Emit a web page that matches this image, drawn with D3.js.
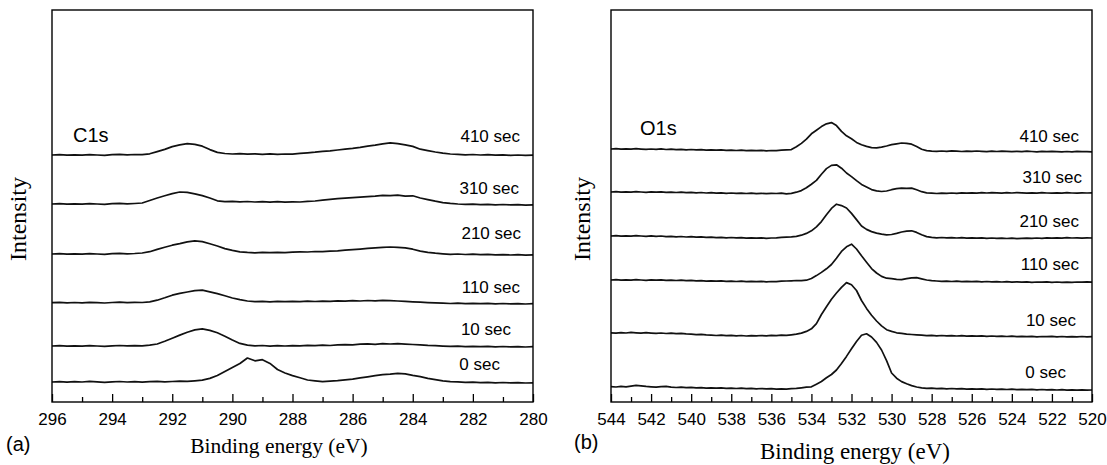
<!DOCTYPE html>
<head>
<meta charset="utf-8">
<script src="https://d3js.org/d3.v7.min.js"></script>
</head>
<style>
body { margin: 0; background: #fff; }
.frame { fill: none; stroke: #000; stroke-width: 1.4px; }
.line { fill: none; stroke: #111; stroke-width: 1.7px; stroke-linejoin: round; }
.tick line { stroke: #000; stroke-width: 1.3px; }
.tick text { font-family: "Liberation Sans", Arial, sans-serif; font-size: 17px; fill: #000; }
.sans { font-family: "Liberation Sans", Arial, sans-serif; fill: #000; }
.serif { font-family: "Liberation Serif", "Times New Roman", serif; fill: #000; }
</style>
<body>
<script>
// spectra, intensity in arbitrary units (stacked), sampled every 0.25 eV
var seriesNames = ["0 sec", "10 sec", "110 sec", "210 sec", "310 sec", "410 sec"];

// C1s : 296 -> 280 eV
var c1sEnergy = d3.range(0, 65).map(function(i) { return 296 - 0.25 * i; });
var c1s0 = [20,20.4,19.8,20.3,20,20.6,20.1,19.7,20.2,20.5,20,20.4,19.9,20.3,20.6,20.2,20.5,
  20.8,20.6,21.2,21.8,23.6,26.5,30.5,34.5,38.5,44,41.2,42.3,38.6,32.5,29,26.4,24.2,22,21.2,20.4,
  20.8,21.3,22.2,22.8,24.1,25.2,26.3,27.4,27.9,28.6,28.1,26.6,25.3,23.6,22.4,21.2,20.4,20.1,19.6,
  19.8,19.4,19.7,19.2,19.5,19.1,19.4,19,19.2];
var c1s10 = [56,56.3,55.8,56.2,55.9,56.4,56,55.7,56.2,56.5,56.1,56.4,
  56.2,56.8,58,60.8,63.8,66.9,69.8,72.1,73.2,71.6,69.2,65.8,62,58.6,56.8,56.2,56.5,55.9,56.3,56,
  56.4,56.1,56.6,56.3,56.8,56.5,57.1,57.4,57.2,57.8,58.1,57.7,58.3,58,58.4,57.9,57.5,57.2,56.6,
  56.3,55.9,55.6,55.9,55.4,55.7,55.3,55.6,55.2,55.5,55.1,55.4,55,55.3];
var c1s110 = [99.3,99.6,99.1,99.5,99.2,99.7,99.3,99,99.5,99.8,99.4,99.6,
  99.5,100.2,101.8,104.2,106.8,108.6,110,111.4,111.8,110.2,108.4,106.2,104,102.4,101,100.4,100.7,
  100.2,100.6,100.3,100.7,100.4,100.8,100.5,100.9,100.6,101.1,100.8,101.3,101,101.5,101.2,101.6,
  101.3,101,100.6,100.2,99.8,99.4,99.1,98.8,98.5,98.8,98.4,98.7,98.3,98.6,98.2,98.5,98.1,98.4,98,98.3];
var c1s210 = [148,148.3,147.8,148.2,147.9,148.4,148,147.7,148.3,148.6,148.2,148.5,
  149,150.3,152.6,154.8,156.8,158.4,160.2,161.2,160.4,158.2,156,153.4,151.6,150.2,149.6,149.2,
  149.6,149.3,149.7,149.4,149.9,150.2,150,150.5,150.3,150.8,151.2,151.8,152.3,152.9,153.6,154.2,
  154.6,155,154.7,154.2,152.8,150.9,149.6,148.8,148.2,147.7,148,147.5,147.8,147.3,147.6,147.1,
  147.4,147,147.3,146.9,147.1];
var c1s310 = [198,198.3,197.8,198.2,197.9,198.4,198,197.7,198.3,198.6,198.1,198.5,
  199,201.5,204,206.2,208.4,210,209.6,208.2,206.4,204,201.2,200.3,200.6,200.1,200.5,200,200.4,
  199.9,200.3,199.8,200.2,200,200.6,201,201.8,202.6,203.3,203.8,204.4,204.9,205.4,205.8,206.6,
  206.3,206.9,205.8,206.2,204,202.4,200.8,199.4,198.6,198,197.6,197.9,197.4,197.7,197.2,197.5,
  197.1,197.4,196.9,197.2];
var c1s410 = [247,247.3,246.8,247.2,246.9,247.4,247,246.7,247.3,247.6,247.2,247.5,
  247.3,248.2,250.4,252.6,255.4,257.2,258.3,257.6,255.8,252.4,249.6,248.5,248,248.4,247.9,248.2,
  247.7,248.1,247.6,248,247.9,248.6,249.2,249.8,250.6,251.2,252,252.8,253.6,254.6,255.8,256.8,
  258.2,259.2,258.4,257.2,255.6,252.8,251.4,250,248.9,248,247.6,247.2,247.5,247,247.3,246.8,
  247.1,246.7,247,246.6,246.9];

// O1s : 544 -> 520 eV
var o1sEnergy = d3.range(0, 97).map(function(i) { return 544 - 0.25 * i; });
var o1s0 = [15.3,15,15.6,15.2,15.9,16.6,16.2,15.6,
  15.2,14.9,15.4,15.6,14.8,14.5,14.9,14.3,14.6,14.1,14.4,13.9,14.2,13.8,14.1,13.6,13.9,13.5,13.8,
  13.3,13.7,13.2,13.5,13.1,13.4,12.9,13.2,12.8,
  13.3,13.6,14.2,14.8,15.2,17.8,20.5,24.2,27.5,32,38.5,45.6,53.2,60.5,66.8,68.2,65,59.6,52,41.4,
  29,23.8,20.4,18.2,16.4,15,14.2,13.6,13.8,
  13.4,13.7,13.2,13.5,13.1,13.4,12.9,13.2,12.8,13.1,12.7,13,12.6,12.9,12.5,12.8,12.4,12.7,12.3,
  12.6,12.2,12.5,12.1,12.4,12,12.3,11.9,12.2,11.8,12.1,11.9,12];
var o1s10 = [69.2,68.9,69.4,69,69.6,69.2,68.8,69.3,68.9,68.6,69,68.5,68.8,68.3,68.6,68.1,67.8,
  67.4,67.7,67.1,66.8,66.5,66.9,66.3,66.6,66.2,66.5,66,66.4,66.1,66.5,66.2,66.6,66.3,66.8,66.6,
  67.2,67.8,68.9,70.6,73.2,78.4,87.5,95.2,102.8,109,114.6,119.4,117.2,111.5,101.5,93.6,86.8,81,
  76.2,72.3,70.6,69.2,68.6,67.9,67.5,
  67.1,66.8,66.4,66.6,66.2,66.5,66.1,66.4,66,66.3,65.9,66.2,65.8,66.1,65.7,66,65.6,65.9,65.5,
  65.8,65.4,65.7,65.3,65.6,65.2,65.5,65.3,65.6,65.2,65.5,65.1,65.4,65.2,65.5,65.1,65.3];
var o1s110 = [122,122.3,121.8,122.2,121.9,122.4,122,121.7,122.1,121.8,122.2,121.6,121.9,121.5,
  121.8,121.3,121.6,121.1,121.4,120.9,121.2,120.8,121.1,120.6,120.9,120.5,120.8,120.4,120.7,120.3,
  120.6,120.2,120.5,120.4,120.8,121,
  121.2,121.5,121.4,121.8,123.5,126.4,129.6,133.2,137.5,143.8,150.6,155.2,157.8,153,146.2,139.8,
  133.4,129,125.6,123.8,123.3,122.6,122.3,123.4,124.2,124.4,123.2,122,121.4,
  121,120.6,120.9,120.5,120.8,120.4,120.7,120.3,120.6,120.2,120.5,120.1,120.4,120,120.3,119.9,
  120.2,119.8,120.1,119.7,120,119.8,120.1,119.7,120,119.6,119.9,119.7,120,119.8,120.1,119.9];
var o1s210 = [166,166.3,165.8,166.2,165.9,166.4,166,165.7,166.1,165.6,166,165.4,165.7,165.2,165.5,
  165,165.3,164.8,165.1,164.6,164.9,164.4,164.7,164.2,164.5,164.1,164.4,163.9,164.2,163.8,164.1,
  163.7,164,164.2,164.6,164.9,
  165.1,165.6,166.8,168.6,171.2,175.2,180.4,187.2,193.6,197.8,196.4,194,188.6,182.4,176,172.6,
  170.4,168.9,167.8,167.2,167.5,168.6,170,170.8,171.2,169.6,167.2,165.4,164.6,
  164.2,164.5,164.1,164.4,164,164.3,163.9,164.2,163.8,164.1,163.7,164,163.6,163.9,163.5,163.8,
  163.4,163.7,163.9,163.6,164,163.7,164.1,163.8,164.2,163.9,164.3,164,164.2,163.9,164.1,164];
var o1s310 = [210,210.3,209.8,210.2,209.9,210.4,210,209.7,210.1,209.8,210.2,209.6,209.9,209.5,
  209.8,209.3,209.6,209.2,209.5,209,209.3,208.9,209.2,208.7,209,208.6,208.9,208.5,208.8,208.4,
  208.7,208.3,208.6,208.5,208.9,208.2,
  208.6,209.8,211.4,214.2,217.8,221.6,227.8,233.4,236.6,237.2,233.8,229,225.4,221.4,217.6,215,
  212.4,211.1,210.5,211,212.3,213.4,213.8,213.6,213.9,212.2,210.3,209.2,208.8,
  208.5,208.9,208.6,209,208.7,209.1,208.8,209.2,208.9,209.3,209,209.4,209.1,208.9,209.3,209,209.4,
  209.1,208.8,209.2,208.9,209.3,209,208.8,209.2,208.9,209.3,209,208.8,209.2,209,209.1];
var o1s410 = [253,253.3,252.8,253.2,252.9,253.3,252.9,252.6,253,252.7,253.1,252.5,252.8,252.4,
  252.7,252.2,252.5,252.1,252.4,251.9,252.2,251.8,252.1,251.6,251.9,251.5,251.8,251.4,251.7,251.3,
  251.6,251.2,251.5,251.4,251.8,252.2,
  252.4,255.2,258.6,262.8,268.2,271.8,275.4,278.2,279.4,276.4,270.6,266.2,263.2,259.6,257.2,255.6,
  254.4,254.2,254.8,256,257.4,258.2,259,258.6,257.8,255.4,252.8,251.4,250.9,
  250.6,251,250.7,251.1,250.8,250.5,250.9,250.6,251,250.7,250.4,250.8,250.5,250.9,250.6,250.3,
  250.7,250.4,250.8,250.5,250.2,250.6,250.3,250.7,250.4,250.1,250.5,250.2,250.6,250.3,250.4,250.2];

var c1sTicks = [296, 294, 292, 290, 288, 286, 284, 282, 280];
var o1sTicks = [544, 542, 540, 538, 536, 534, 532, 530, 528, 526, 524, 522, 520];

// layout
var W = 1107, H = 465;
var plotW = 481, plotH = 392, plotTop = 10;

var svg = d3.select("body").append("svg")
    .attr("width", W)
    .attr("height", H);

function drawPanel(opt) {
  var g = svg.append("g")
      .attr("transform", "translate(" + opt.left + "," + plotTop + ")");

  var x = d3.scaleLinear().domain(opt.domain).range([0, plotW]);
  var y = d3.scaleLinear().domain([0, plotH]).range([plotH, 0]);

  var line = d3.line()
      .x(function(d) { return x(d[0]); })
      .y(function(d) { return y(d[1]); });

  opt.curves.forEach(function(vals) {
    var pts = opt.energy.map(function(e, i) { return [e, vals[i]]; });
    g.append("path")
        .datum(pts)
        .attr("class", "line")
        .attr("d", line);
  });

  // minor ticks
  var minor = d3.range(opt.domain[0], opt.domain[1] - 0.5, -1)
      .filter(function(v) { return opt.ticks.indexOf(v) < 0; });
  g.append("g")
      .attr("transform", "translate(0," + plotH + ")")
      .call(d3.axisBottom(x).tickValues(minor).tickSize(-5).tickFormat(""))
      .call(function(a) { a.select(".domain").remove(); });

  g.append("g")
      .attr("transform", "translate(0," + plotH + ")")
      .call(d3.axisBottom(x).tickValues(opt.ticks).tickSize(-8).tickPadding(11)
            .tickFormat(d3.format("d")))
      .call(function(a) { a.select(".domain").remove(); });

  g.append("rect")
      .attr("class", "frame")
      .attr("width", plotW)
      .attr("height", plotH);

  // series labels
  seriesNames.forEach(function(name, i) {
    svg.append("text")
        .attr("class", "sans")
        .attr("x", opt.labelX[i])
        .attr("y", opt.labelY[i])
        .attr("text-anchor", "end")
        .style("font-size", "17px")
        .text(name);
  });

  svg.append("text")
      .attr("class", "sans")
      .attr("x", opt.titleX)
      .attr("y", opt.titleY)
      .style("font-size", "20px")
      .text(opt.title);

  svg.append("text")
      .attr("class", "sans")
      .attr("x", opt.tagX)
      .attr("y", opt.tagY)
      .style("font-size", "20px")
      .text(opt.tag);

  svg.append("text")
      .attr("class", "serif")
      .attr("x", opt.xlabX)
      .attr("y", opt.xlabY)
      .attr("text-anchor", "middle")
      .style("font-size", opt.xlabSize)
      .text("Binding energy (eV)");

  svg.append("text")
      .attr("class", "serif")
      .attr("transform", "translate(" + opt.ylabX + ",219) rotate(-90)")
      .attr("text-anchor", "middle")
      .style("font-size", "24px")
      .text("Intensity");
}

drawPanel({
  left: 52, domain: [296, 280], energy: c1sEnergy, ticks: c1sTicks,
  curves: [c1s0, c1s10, c1s110, c1s210, c1s310, c1s410],
  labelX: [500, 511, 520, 521, 519, 520],
  labelY: [370, 335, 293, 239, 194, 142],
  title: "C1s", titleX: 73, titleY: 142,
  tag: "(a)", tagX: 6, tagY: 451,
  xlabX: 279, xlabY: 453, xlabSize: "21.5px",
  ylabX: 26
});

drawPanel({
  left: 611, domain: [544, 520], energy: o1sEnergy, ticks: o1sTicks,
  curves: [o1s0, o1s10, o1s110, o1s210, o1s310, o1s410],
  labelX: [1066, 1076, 1079, 1079, 1082, 1079],
  labelY: [378, 326, 270, 227, 183, 142],
  title: "O1s", titleX: 640, titleY: 135,
  tag: "(b)", tagX: 574, tagY: 449,
  xlabX: 855, xlabY: 459, xlabSize: "23px",
  ylabX: 590
});
</script>
</body>
